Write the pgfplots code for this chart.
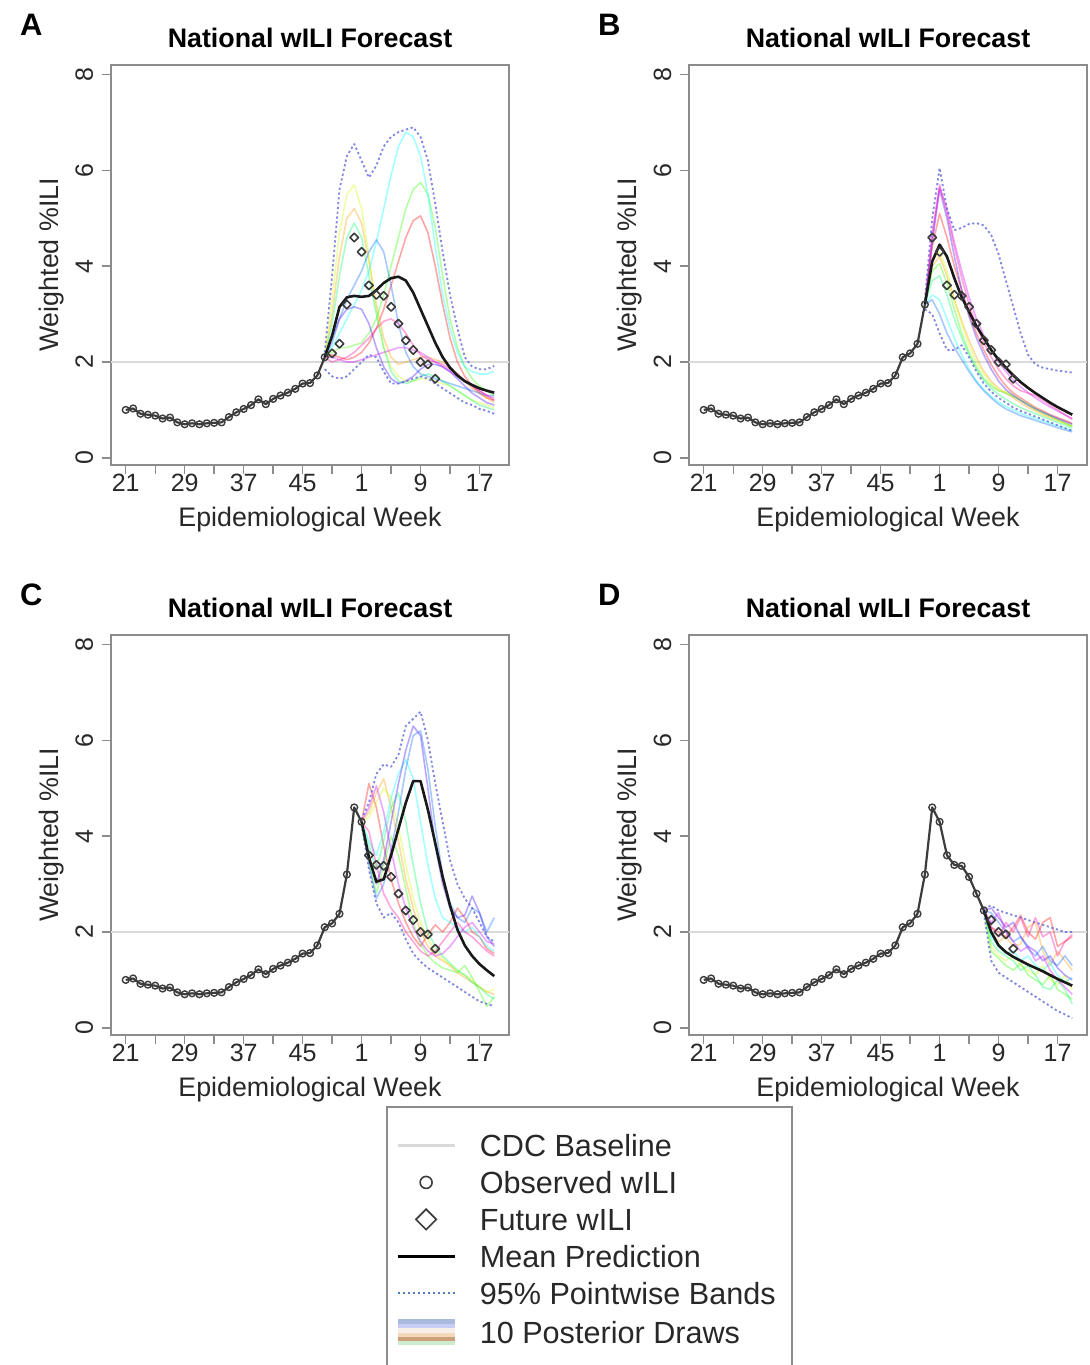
\documentclass[border=0pt]{standalone}
\usepackage{fontspec}
\setmainfont{Liberation Sans}
\usepackage{pgfplots}
\usepackage{pgfplotstable}
\pgfplotsset{compat=1.18}

\definecolor{boxgray}{RGB}{140,140,140}
\definecolor{txtgray}{RGB}{40,40,40}
\definecolor{basegray}{RGB}{218,218,218}
\definecolor{obsgray}{RGB}{60,60,60}
\definecolor{bandcol}{RGB}{95,105,215}
\definecolor{c1}{HTML}{FF0000}
\definecolor{c2}{HTML}{FF9900}
\definecolor{c3}{HTML}{CCFF00}
\definecolor{c4}{HTML}{33FF00}
\definecolor{c5}{HTML}{00FF66}
\definecolor{c6}{HTML}{00FFFF}
\definecolor{c7}{HTML}{0066FF}
\definecolor{c8}{HTML}{3300FF}
\definecolor{c9}{HTML}{CC00FF}
\definecolor{c10}{HTML}{FF0099}

% weekly wILI, index 0 = week 21
\pgfplotstableread{
i v
0 1.00
1 1.03
2 0.92
3 0.90
4 0.88
5 0.82
6 0.84
7 0.74
8 0.70
9 0.72
10 0.70
11 0.72
12 0.73
13 0.74
14 0.85
15 0.95
16 1.02
17 1.10
18 1.22
19 1.12
20 1.23
21 1.30
22 1.36
23 1.44
24 1.55
25 1.56
26 1.72
27 2.10
28 2.18
29 2.38
30 3.20
31 4.60
32 4.30
33 3.60
34 3.40
35 3.38
36 3.15
37 2.80
38 2.45
39 2.25
40 2.00
41 1.95
42 1.65
}\wili

% forecasts: mean, 95% bands, 10 posterior draws
\pgfplotstableread{
i mean lo hi d1 d2 d3 d4 d5 d6 d7 d8 d9 d10
27 2.10 1.85 2.20 2.10 2.10 2.10 2.10 2.10 2.10 2.10 2.10 2.10 2.10
28 2.55 1.70 3.80 2.15 3.00 3.30 2.20 2.80 2.30 2.40 2.50 2.10 2.00
29 3.15 1.65 5.60 2.10 4.20 4.70 2.30 3.80 2.60 2.90 2.90 2.05 2.05
30 3.35 1.70 6.30 2.05 5.00 5.50 2.30 4.60 2.90 3.30 3.10 2.00 2.10
31 3.38 1.85 6.55 2.10 5.20 5.70 2.35 4.90 3.20 3.60 3.15 2.00 2.20
32 3.36 2.00 6.20 2.20 4.90 5.20 2.40 4.60 3.50 3.90 3.10 2.05 2.35
33 3.38 2.15 5.85 2.40 4.10 4.20 2.60 3.80 3.90 4.30 2.80 2.10 2.50
34 3.50 2.10 6.10 2.70 3.20 3.10 2.90 3.00 4.50 4.55 2.30 2.15 2.70
35 3.65 1.80 6.50 3.10 2.50 2.30 3.40 2.30 5.20 4.30 1.90 2.20 2.85
36 3.75 1.55 6.70 3.60 2.10 1.90 4.00 1.80 5.90 3.60 1.65 2.25 2.90
37 3.78 1.55 6.80 4.10 1.95 1.70 4.60 1.60 6.50 2.80 1.55 2.30 2.80
38 3.70 1.60 6.85 4.60 2.00 1.60 5.20 1.55 6.80 2.20 1.60 2.30 2.60
39 3.45 1.65 6.90 4.95 2.05 1.60 5.60 1.60 6.70 1.90 1.70 2.25 2.35
40 3.10 1.70 6.70 5.05 2.10 1.65 5.75 1.70 6.30 1.75 1.85 2.20 2.15
41 2.75 1.65 6.20 4.70 2.10 1.65 5.50 1.75 5.50 1.70 1.95 2.10 2.05
42 2.40 1.55 5.30 4.00 2.05 1.60 4.80 1.70 4.40 1.65 1.95 2.00 2.00
43 2.10 1.45 4.30 3.20 2.00 1.55 3.80 1.60 3.40 1.60 1.90 1.90 1.95
44 1.88 1.35 3.40 2.50 1.90 1.50 2.90 1.50 2.70 1.55 1.80 1.80 1.85
45 1.72 1.25 2.70 2.00 1.75 1.40 2.30 1.40 2.20 1.50 1.65 1.70 1.75
46 1.60 1.15 2.10 1.70 1.60 1.30 1.90 1.30 1.90 1.45 1.50 1.60 1.60
47 1.52 1.10 1.90 1.50 1.45 1.20 1.65 1.20 1.80 1.40 1.35 1.50 1.50
48 1.45 1.02 1.85 1.35 1.35 1.15 1.50 1.10 1.75 1.35 1.25 1.40 1.40
49 1.40 0.98 1.85 1.25 1.25 1.10 1.40 1.05 1.75 1.30 1.15 1.30 1.30
50 1.36 0.92 1.92 1.20 1.15 1.05 1.30 1.00 1.80 1.30 1.10 1.25 1.20
}\fcA

\pgfplotstableread{
i mean lo hi d1 d2 d3 d4 d5 d6 d7 d8 d9 d10
30 3.20 3.10 3.30 3.20 3.20 3.20 3.20 3.20 3.20 3.20 3.20 3.20 3.20
31 4.10 3.00 5.00 4.40 4.00 4.10 3.90 3.70 3.40 3.30 4.50 4.60 4.70
32 4.45 2.60 6.05 5.10 4.20 4.30 4.05 3.80 3.30 3.00 5.60 5.65 5.70
33 4.20 2.25 5.20 4.60 3.80 3.90 3.65 3.40 2.90 2.60 5.00 5.20 5.10
34 3.75 2.25 4.75 4.00 3.30 3.30 3.10 2.90 2.50 2.30 4.20 4.50 4.40
35 3.35 2.35 4.80 3.50 2.85 2.80 2.60 2.50 2.15 2.05 3.50 3.90 3.75
36 3.05 2.10 4.88 3.00 2.45 2.35 2.20 2.15 1.85 1.80 2.95 3.35 3.20
37 2.75 1.80 4.90 2.60 2.10 2.00 1.90 1.85 1.60 1.58 2.50 2.90 2.75
38 2.50 1.55 4.85 2.25 1.80 1.75 1.65 1.62 1.42 1.40 2.15 2.55 2.40
39 2.25 1.38 4.65 1.95 1.60 1.55 1.50 1.45 1.28 1.25 1.85 2.25 2.10
40 2.05 1.25 4.25 1.70 1.45 1.40 1.40 1.32 1.16 1.12 1.60 2.00 1.85
41 1.88 1.15 3.70 1.50 1.35 1.38 1.35 1.22 1.07 1.02 1.42 1.80 1.65
42 1.72 1.05 3.15 1.35 1.25 1.30 1.28 1.13 1.00 0.95 1.30 1.62 1.50
43 1.58 0.98 2.60 1.25 1.15 1.20 1.20 1.05 0.93 0.88 1.20 1.48 1.40
44 1.46 0.92 2.15 1.15 1.05 1.10 1.12 0.98 0.87 0.83 1.10 1.36 1.35
45 1.35 0.86 1.95 1.05 0.98 1.00 1.03 0.92 0.82 0.78 1.02 1.25 1.30
46 1.25 0.80 1.88 0.98 0.90 0.92 0.95 0.86 0.77 0.73 0.95 1.15 1.20
47 1.15 0.74 1.85 0.90 0.84 0.85 0.88 0.80 0.72 0.68 0.88 1.06 1.10
48 1.06 0.68 1.82 0.84 0.78 0.78 0.80 0.74 0.67 0.63 0.82 0.98 1.00
49 0.98 0.62 1.80 0.78 0.72 0.72 0.73 0.68 0.62 0.58 0.76 0.90 0.90
50 0.90 0.56 1.78 0.72 0.66 0.65 0.66 0.62 0.57 0.54 0.70 0.82 0.80
}\fcB

\pgfplotstableread{
i mean lo hi d1 d2 d3 d4 d5 d6 d7 d8 d9 d10
32 4.30 4.25 4.35 4.30 4.30 4.30 4.30 4.30 4.30 4.30 4.30 4.30 4.30
33 3.55 3.30 4.70 5.10 4.50 4.40 3.50 3.80 3.90 3.40 3.60 4.60 4.10
34 3.05 2.60 5.30 4.60 4.90 4.70 2.80 3.30 3.60 2.70 3.00 5.05 3.40
35 3.10 2.30 5.50 3.80 5.20 5.00 3.40 3.90 4.10 3.00 3.50 4.50 2.80
36 3.60 2.40 5.45 3.10 4.60 4.80 4.00 4.60 4.80 3.70 4.30 3.70 2.50
37 4.15 2.20 5.70 2.60 3.90 4.20 3.60 4.90 5.30 4.50 5.10 3.00 2.30
38 4.70 1.85 6.30 2.20 3.10 3.40 2.90 4.30 5.60 5.40 5.80 2.50 2.00
39 5.15 1.55 6.45 1.90 2.50 2.70 2.20 3.40 5.20 6.10 6.30 2.10 1.80
40 5.15 1.38 6.60 1.70 2.00 2.20 1.75 2.60 4.30 6.20 6.10 1.80 1.60
41 4.55 1.25 6.00 1.95 1.70 1.85 1.50 2.00 3.40 5.40 5.00 1.60 1.50
42 3.85 1.15 5.10 2.15 1.50 1.60 1.35 1.70 2.70 4.20 3.80 1.50 1.60
43 3.15 1.05 4.30 2.00 1.40 1.45 1.25 1.50 2.30 3.20 3.00 1.55 1.80
44 2.55 0.95 3.50 2.20 1.30 1.30 1.20 1.35 2.20 2.60 2.50 1.70 2.00
45 2.05 0.85 3.00 2.50 1.15 1.20 1.15 1.20 2.10 2.30 2.30 1.90 2.20
46 1.72 0.75 2.70 2.30 1.05 1.10 1.30 1.10 2.00 2.20 2.35 2.10 2.00
47 1.50 0.65 2.50 2.00 0.95 1.00 1.05 0.95 2.10 2.50 2.75 2.20 1.90
48 1.33 0.55 2.20 1.90 0.85 0.85 0.75 0.85 1.90 2.40 2.40 2.00 1.75
49 1.20 0.50 1.90 1.65 0.75 0.75 0.45 0.70 1.70 2.00 1.90 1.80 1.60
50 1.08 0.45 1.80 1.55 0.70 0.80 0.65 0.60 1.60 2.30 1.70 1.75 1.50
}\fcC

\pgfplotstableread{
i mean lo hi d1 d2 d3 d4 d5 d6 d7 d8 d9 d10
38 2.45 2.40 2.50 2.45 2.45 2.45 2.45 2.45 2.45 2.45 2.45 2.45 2.45
39 2.00 1.40 2.55 2.10 2.00 1.70 1.60 1.80 1.90 2.40 2.50 2.20 2.10
40 1.72 1.15 2.45 2.00 1.80 1.50 1.45 1.60 1.70 2.20 2.30 2.40 1.90
41 1.58 1.05 2.40 1.90 1.90 1.40 1.30 1.50 1.55 2.00 2.10 2.00 2.20
42 1.48 0.95 2.35 2.10 1.70 1.50 1.20 1.40 1.60 1.80 2.20 1.80 2.00
43 1.40 0.85 2.30 2.35 1.75 1.30 1.35 1.20 1.40 1.90 1.90 1.60 2.30
44 1.32 0.75 2.25 2.00 2.10 1.20 1.10 1.30 1.50 1.65 1.70 1.70 1.90
45 1.25 0.65 2.20 1.85 2.20 1.10 1.00 1.10 1.30 1.50 1.60 1.40 2.30
46 1.18 0.55 2.15 2.20 1.60 1.30 0.90 0.85 1.20 1.70 1.40 1.50 1.90
47 1.10 0.45 2.10 2.30 1.30 1.00 1.10 0.80 1.35 1.40 1.50 1.20 2.00
48 1.02 0.35 2.05 1.70 1.60 0.90 0.80 1.00 1.10 1.30 1.25 1.00 1.50
49 0.95 0.28 2.00 1.80 1.40 1.10 0.70 0.80 0.95 1.50 1.10 0.85 1.80
50 0.88 0.20 2.00 1.90 1.20 0.80 0.60 0.50 1.05 1.30 1.00 0.70 1.95
}\fcD

\pgfplotsset{
  panel/.style={
    scale only axis, width=199pt, height=200pt,
    xmin=-2, xmax=52, ymin=-0.15, ymax=8.2,
    xtick={0,4,...,48}, xticklabels={21,,29,,37,,45,,1,,9,,17},
    ytick={0,2,4,6,8},
    tick align=outside, tick pos=left,
    major tick length=4.5pt,
    axis line style={boxgray, line width=0.7pt},
    every tick/.style={boxgray, line width=0.7pt},
    /pgf/number format/assume math mode=true,
    tick label style={font=\fontsize{12.5}{12.5}\selectfont, text=txtgray},
    xticklabel style={anchor=base, yshift=-9pt},
    yticklabel style={xshift=-4.5pt, rotate=90, anchor=base},
    title={National wILI Forecast},
    title style={font=\bfseries\fontsize{13.4}{14}\selectfont, at={(0.5,1)}, anchor=center, yshift=7.5pt},
    xlabel={Epidemiological Week}, ylabel={Weighted \%ILI},
    label style={font=\fontsize{13.4}{14}\selectfont, text=txtgray},
    xlabel style={at={(axis description cs:0.5,-0.155)}, anchor=base},
    ylabel style={at={(axis description cs:-0.133,0.5)}, anchor=base},
    clip mode=individual,
    every axis plot/.append style={line join=round},
  },
  drw/.style={draw=#1, line width=0.8pt, draw opacity=0.35},
  band/.style={bandcol, line width=0.9pt, dash pattern=on 1.1pt off 1.3pt, draw opacity=0.8},
}

% #1 x, #2 y, #3 forecast table, #4 last observed week index, #5 panel letter
\newcommand{\panel}[5]{%
\begin{axis}[panel, at={(#1,#2)}, anchor=south west]
  \addplot[basegray, line width=1pt] coordinates {(-2,2) (52,2)};
  \addplot[drw=c1] table[x=i, y=d1] {#3};
  \addplot[drw=c2] table[x=i, y=d2] {#3};
  \addplot[drw=c3] table[x=i, y=d3] {#3};
  \addplot[drw=c4] table[x=i, y=d4] {#3};
  \addplot[drw=c5] table[x=i, y=d5] {#3};
  \addplot[drw=c6] table[x=i, y=d6] {#3};
  \addplot[drw=c7] table[x=i, y=d7] {#3};
  \addplot[drw=c8] table[x=i, y=d8] {#3};
  \addplot[drw=c9] table[x=i, y=d9] {#3};
  \addplot[drw=c10] table[x=i, y=d10] {#3};
  \addplot[band] table[x=i, y=lo] {#3};
  \addplot[band] table[x=i, y=hi] {#3};
  \addplot[black!90, line width=1.3pt] table[x=i, y=mean] {#3};
  \addplot[obsgray, line width=1.1pt, mark=o, mark size=1.7pt,
    mark options={line width=0.7pt}, restrict x to domain=0:#4] table[x=i, y=v] {\wili};
  \addplot[obsgray, only marks, mark=square, mark size=1.5pt,
    mark options={rotate=45, line width=0.8pt}, restrict x to domain=#4.5:42] table[x=i, y=v] {\wili};
  \node[font=\bfseries\fontsize{15.5}{16}\selectfont] at (rel axis cs:-0.2,1.1) {#5};
\end{axis}}

\begin{document}
\begin{tikzpicture}
\useasboundingbox (0,0) rectangle (545pt,682.5pt);

\panel{55.5pt}{450pt}{\fcA}{27}{A}
\panel{344.5pt}{450pt}{\fcB}{30}{B}
\panel{55.5pt}{165pt}{\fcC}{32}{C}
\panel{344.5pt}{165pt}{\fcD}{38}{D}

% legend
\begin{axis}[at={(0pt,0pt)}, anchor=south west, scale only axis,
  width=545pt, height=682.5pt, xmin=0, xmax=545, ymin=0, ymax=682.5,
  hide axis, clip=false,
  legend style={at={(0.3624,0.1692)}, anchor=north west, draw=none, fill=none,
    inner sep=0pt, row sep=7.5pt, column sep=11.5pt,
    font=\fontsize{15.3}{16}\selectfont, text=txtgray,
    nodes={inner sep=0pt, text height=11pt, text depth=0pt, anchor=west}},
  legend cell align=left]
\draw[boxgray, line width=0.7pt] (axis cs:193.5,-10) rectangle (axis cs:396,129);
\addlegendimage{legend image code/.code={\draw[basegray, line width=1.2pt] (0pt,0pt) -- (28.5pt,0pt);}}
\addlegendentry{CDC Baseline}
\addlegendimage{legend image code/.code={\draw[obsgray, line width=0.8pt] plot[only marks, mark=o, mark size=3pt] coordinates {(14.25pt,0pt)};}}
\addlegendentry{Observed wILI}
\addlegendimage{legend image code/.code={\draw[obsgray, line width=0.8pt] plot[only marks, mark=square, mark size=3.6pt, mark options={rotate=45}] coordinates {(14.25pt,0pt)};}}
\addlegendentry{Future wILI}
\addlegendimage{legend image code/.code={\draw[black, line width=1.3pt] (0pt,0pt) -- (28.5pt,0pt);}}
\addlegendentry{Mean Prediction}
\addlegendimage{legend image code/.code={\draw[color={rgb,255:red,80;green,125;blue,200}, line width=1pt, dash pattern=on 1.2pt off 1.3pt] (0pt,0pt) -- (28.5pt,0pt);}}
\addlegendentry{95\% Pointwise Bands}
\addlegendimage{legend image code/.code={
  \draw[color={rgb,255:red,170;green,185;blue,222}, line width=2.2pt] (0pt,5.2pt) -- (28.5pt,5.2pt);
  \draw[color={rgb,255:red,200;green,205;blue,245}, line width=2.2pt] (0pt,3pt) -- (28.5pt,3pt);
  \draw[color={rgb,255:red,248;green,238;blue,232}, line width=2.2pt] (0pt,0.8pt) -- (28.5pt,0.8pt);
  \draw[color={rgb,255:red,245;green,215;blue,188}, line width=2.2pt] (0pt,-1.4pt) -- (28.5pt,-1.4pt);
  \draw[color={rgb,255:red,205;green,160;blue,122}, line width=2.2pt] (0pt,-3.6pt) -- (28.5pt,-3.6pt);
  \draw[color={rgb,255:red,205;green,235;blue,205}, line width=2.2pt] (0pt,-5.6pt) -- (28.5pt,-5.6pt);}}
\addlegendentry{10 Posterior Draws}
\end{axis}
\end{tikzpicture}
\end{document}
